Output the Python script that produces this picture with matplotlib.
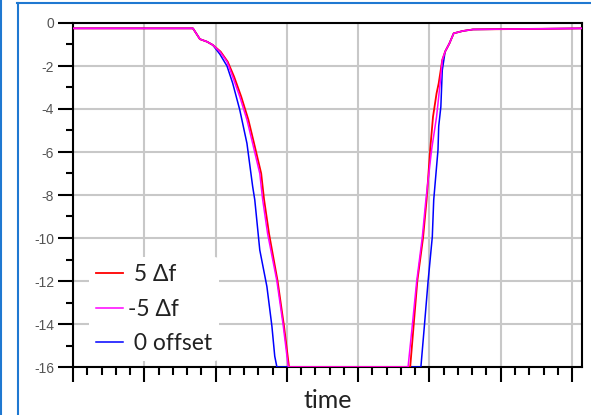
import matplotlib
matplotlib.use("Agg")
import matplotlib.pyplot as plt
from matplotlib.lines import Line2D
from matplotlib.ticker import MultipleLocator

plt.rcParams["axes.unicode_minus"] = False
plt.rcParams["font.family"] = ["Lato", "DejaVu Sans"]

# attenuation traces (dB) against time for the three frequency offsets
x_pos5 = [0, 1.683, 1.78, 1.88, 1.96, 2.07, 2.17, 2.26, 2.36, 2.46,
          2.54, 2.64, 2.68, 2.75, 2.87, 2.96, 3.03, 4.73, 4.78, 4.83,
          4.91, 4.96, 5.01, 5.05, 5.10, 5.13, 5.18, 5.22, 5.28, 5.34,
          5.47, 5.61, 7.14]
y_pos5 = [-0.25, -0.25, -0.75, -0.87, -1.02, -1.33, -1.8, -2.5, -3.43, -4.5,
          -5.6, -7.0, -8.2, -9.8, -12.0, -14.1, -16, -16, -14.0, -12.0,
          -10.0, -8.23, -5.9, -4.36, -3.27, -2.8, -1.72, -1.33, -0.95, -0.48,
          -0.37, -0.3, -0.25]

x_neg5 = [0, 1.683, 1.78, 1.88, 1.96, 2.06, 2.16, 2.24, 2.34, 2.44,
          2.52, 2.62, 2.66, 2.73, 2.86, 2.95, 3.02, 4.70, 4.76, 4.82,
          4.90, 4.95, 5.03, 5.10, 5.15, 5.18, 5.22, 5.28, 5.34, 5.47,
          5.61, 7.14]
y_neg5 = [-0.25, -0.25, -0.75, -0.87, -1.02, -1.33, -1.8, -2.5, -3.43, -4.5,
          -5.6, -7.0, -8.2, -9.8, -12.0, -14.1, -16, -16, -14.05, -12.05,
          -9.95, -8.23, -5.9, -4.36, -2.8, -1.72, -1.33, -0.95, -0.48, -0.37,
          -0.3, -0.25]

x_zero = [0, 1.683, 1.78, 1.88, 1.96, 2.06, 2.16, 2.24, 2.34, 2.44,
          2.52, 2.55, 2.62, 2.72, 2.79, 2.83, 2.86, 4.88, 4.93, 4.98,
          5.04, 5.06, 5.12, 5.13, 5.16, 5.18, 5.22, 5.28, 5.34, 5.47,
          5.61, 7.14]
y_zero = [-0.25, -0.25, -0.75, -0.87, -1.02, -1.45, -2.0, -2.8, -4.05, -5.6,
          -7.6, -8.23, -10.56, -12.26, -14.1, -15.5, -16, -16, -14.05, -12.05,
          -9.95, -8.23, -5.9, -4.8, -3.9, -2.2, -1.33, -0.95, -0.48, -0.37,
          -0.3, -0.25]

labels = [" 5 \u0394f", "-5 \u0394f", " 0 offset"]

fig = plt.figure(figsize=(5.91, 4.15), dpi=100)
ax = fig.add_axes([73 / 591, 1 - 367 / 415, 509 / 591, 344 / 415])

lz, = ax.plot(x_zero, y_zero, color="#0000ff", lw=1.1, label=labels[2], zorder=3)
lp, = ax.plot(x_pos5, y_pos5, color="#ff0000", lw=1.3, label=labels[0], zorder=4)
ln, = ax.plot(x_neg5, y_neg5, color="#ff00ff", lw=1.1, label=labels[1], zorder=5)

ax.set_xlim(0, 7.14)
ax.set_ylim(-16, 0)
ax.xaxis.set_major_locator(MultipleLocator(1))
ax.xaxis.set_minor_locator(MultipleLocator(0.2))
ax.yaxis.set_major_locator(MultipleLocator(2))
ax.yaxis.set_minor_locator(MultipleLocator(1))
ax.set_xticklabels([])
ax.grid(True, which="major", color="#c8c8c8", lw=1.5, zorder=0)
ax.set_axisbelow(True)

ax.tick_params(axis="both", which="major", direction="out", length=11,
               width=1.5, color="black")
ax.tick_params(axis="both", which="minor", direction="out", length=5,
               width=1.5, color="black")
ax.tick_params(axis="x", which="minor", length=6)
ax.tick_params(axis="y", labelsize=10, labelcolor="#555555", pad=2.5)
for lab in ax.get_yticklabels():
    lab.set_family(["Liberation Sans", "DejaVu Sans"])
for sp in ax.spines.values():
    sp.set_linewidth(1.5)

ax.set_xlabel("time", fontsize=18, color="#222222", labelpad=1)

leg = ax.legend(handles=[lp, ln, lz], loc="lower left",
                bbox_to_anchor=(0.031, 0.017), frameon=True, fontsize=16.5,
                handlelength=1.18, handletextpad=0.22, labelspacing=0.6,
                borderpad=0.3, borderaxespad=0.0)
leg.get_frame().set_facecolor("white")
leg.get_frame().set_edgecolor("none")
leg.get_frame().set_alpha(1.0)
for t in leg.get_texts():
    t.set_color("#222222")

# blue window frame around the plot
frame_col = "#1f78d1"
fig.add_artist(Line2D([0.5 / 591, 0.5 / 591], [0, 1], color=frame_col, lw=1.5))
fig.add_artist(Line2D([17.5 / 591, 17.5 / 591], [0, 1 - 3 / 415], color=frame_col, lw=1.5))
fig.add_artist(Line2D([17 / 591, 1], [1 - 3 / 415, 1 - 3 / 415], color=frame_col, lw=1.5))

fig.savefig("out.png", dpi=100)
